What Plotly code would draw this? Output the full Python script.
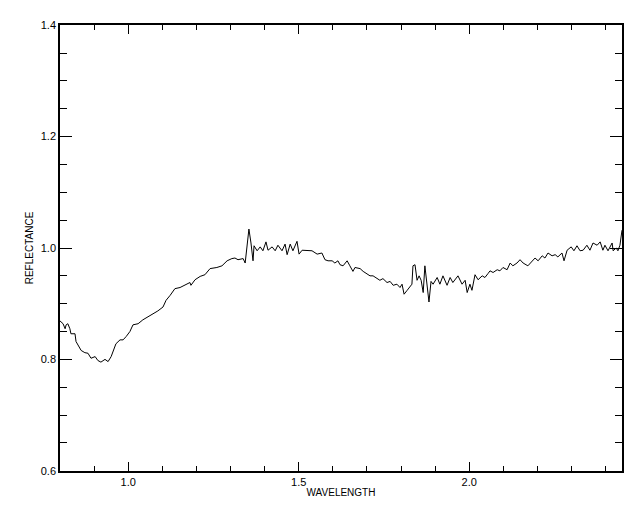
import plotly.graph_objects as go

wavelength = [0.800, 0.809, 0.815, 0.818, 0.823, 0.829, 0.832, 0.844, 0.847, 0.856,
              0.862, 0.873, 0.882, 0.891, 0.903, 0.911, 0.920, 0.932, 0.941, 0.950,
              0.958, 0.964, 0.976, 0.985, 0.994, 1.005, 1.014, 1.029, 1.043, 1.058,
              1.073, 1.087, 1.102, 1.111, 1.123, 1.137, 1.152, 1.167, 1.181, 1.184,
              1.196, 1.211, 1.225, 1.240, 1.260, 1.275, 1.290, 1.304, 1.313, 1.322,
              1.337, 1.343, 1.348, 1.354, 1.360, 1.366, 1.369, 1.378, 1.387, 1.395,
              1.404, 1.410, 1.422, 1.431, 1.439, 1.451, 1.460, 1.466, 1.475, 1.483,
              1.495, 1.501, 1.510, 1.524, 1.539, 1.554, 1.568, 1.577, 1.586, 1.598,
              1.606, 1.615, 1.621, 1.630, 1.642, 1.650, 1.659, 1.665, 1.680, 1.689,
              1.700, 1.709, 1.718, 1.730, 1.738, 1.747, 1.759, 1.768, 1.777, 1.788,
              1.797, 1.803, 1.809, 1.818, 1.826, 1.832, 1.835, 1.841, 1.847, 1.853,
              1.859, 1.865, 1.870, 1.876, 1.882, 1.888, 1.894, 1.906, 1.914, 1.923,
              1.935, 1.944, 1.952, 1.967, 1.979, 1.988, 1.994, 2.002, 2.008, 2.017,
              2.026, 2.038, 2.046, 2.055, 2.061, 2.070, 2.082, 2.090, 2.099, 2.111,
              2.120, 2.128, 2.140, 2.149, 2.158, 2.172, 2.184, 2.193, 2.202, 2.214,
              2.222, 2.231, 2.243, 2.252, 2.260, 2.272, 2.278, 2.287, 2.299, 2.307,
              2.316, 2.325, 2.334, 2.345, 2.354, 2.363, 2.375, 2.384, 2.392, 2.398,
              2.407, 2.419, 2.422, 2.431, 2.436, 2.442, 2.448]

reflectance = [0.869, 0.864, 0.855, 0.862, 0.864, 0.855, 0.846, 0.846, 0.832, 0.821,
               0.816, 0.812, 0.811, 0.802, 0.805, 0.798, 0.795, 0.800, 0.796, 0.805,
               0.819, 0.828, 0.835, 0.835, 0.841, 0.850, 0.862, 0.864, 0.871, 0.876,
               0.881, 0.887, 0.894, 0.906, 0.915, 0.927, 0.929, 0.933, 0.938, 0.933,
               0.943, 0.949, 0.952, 0.963, 0.965, 0.968, 0.977, 0.981, 0.982, 0.979,
               0.981, 0.973, 1.000, 1.034, 1.009, 0.977, 1.004, 0.995, 1.002, 0.995,
               1.011, 0.996, 1.002, 0.995, 1.005, 0.995, 1.007, 0.988, 1.007, 0.995,
               1.012, 0.989, 0.996, 0.995, 0.995, 0.989, 0.991, 0.979, 0.977, 0.977,
               0.973, 0.977, 0.970, 0.968, 0.977, 0.968, 0.958, 0.965, 0.963, 0.958,
               0.954, 0.950, 0.950, 0.945, 0.942, 0.945, 0.938, 0.940, 0.933, 0.935,
               0.929, 0.935, 0.917, 0.924, 0.931, 0.935, 0.968, 0.970, 0.942, 0.950,
               0.942, 0.920, 0.968, 0.935, 0.903, 0.940, 0.935, 0.947, 0.935, 0.950,
               0.933, 0.947, 0.938, 0.950, 0.935, 0.942, 0.920, 0.935, 0.924, 0.952,
               0.943, 0.950, 0.947, 0.954, 0.959, 0.956, 0.961, 0.959, 0.965, 0.961,
               0.973, 0.968, 0.973, 0.979, 0.973, 0.968, 0.977, 0.982, 0.977, 0.986,
               0.982, 0.991, 0.986, 0.988, 0.984, 0.991, 0.977, 0.996, 1.002, 0.995,
               1.004, 0.995, 0.996, 1.005, 0.996, 1.009, 1.005, 1.011, 0.996, 1.005,
               0.995, 1.009, 0.995, 1.000, 0.995, 1.005, 1.032]

x_tick_vals = [1.0, 1.5, 2.0]
x_tick_text = ["1.0", "1.5", "2.0"]
y_tick_vals = [0.6, 0.8, 1.0, 1.2, 1.4]
y_tick_text = ["0.6", "0.8", "1.0", "1.2", "1.4"]

fig = go.Figure()
fig.add_trace(go.Scatter(x=wavelength, y=reflectance, mode="lines",
                         line=dict(color="black", width=1), showlegend=False,
                         hoverinfo="skip"))

font = dict(family="Liberation Sans, DejaVu Sans, sans-serif", size=11, color="black")

fig.update_layout(
    width=640, height=512,
    margin=dict(l=52, r=26, t=11, b=49),
    paper_bgcolor="white", plot_bgcolor="white",
    font=font,
    xaxis=dict(
        range=[0.8, 2.448],
        tickmode="array", tickvals=x_tick_vals, ticktext=x_tick_text,
        ticks="inside", ticklen=9, tickwidth=1, tickcolor="black",
        minor=dict(dtick=0.1, tick0=0.8, ticks="inside", ticklen=5, tickwidth=1,
                   tickcolor="black", showgrid=False),
        showline=True, linecolor="black", linewidth=1.5, mirror="ticks",
        showgrid=False, zeroline=False,
        title=dict(text="WAVELENGTH", font=dict(size=10, color="black"), standoff=2),
    ),
    yaxis=dict(
        range=[0.5995, 1.4005],
        tickmode="array", tickvals=y_tick_vals, ticktext=y_tick_text,
        ticks="inside", ticklen=12, tickwidth=1, tickcolor="black",
        minor=dict(dtick=0.05, tick0=0.6, ticks="inside", ticklen=7, tickwidth=1,
                   tickcolor="black", showgrid=False),
        showline=True, linecolor="black", linewidth=1.5, mirror="ticks",
        showgrid=False, zeroline=False,
        title=dict(text="REFLECTANCE", font=dict(size=10, color="black"), standoff=5),
    ),
)

fig.write_html("out.html")
